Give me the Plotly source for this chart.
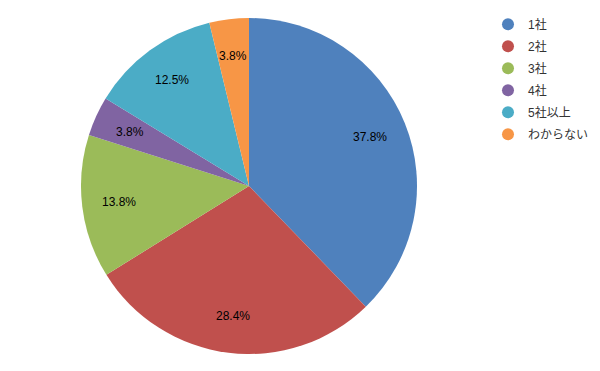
import math
import plotly.graph_objects as go

labels = ["1社", "2社", "3社", "4社", "5社以上", "わからない"]
values = [37.8, 28.4, 13.8, 3.8, 12.5, 3.8]
colors = ["#4F81BD", "#C0504D", "#9BBB59", "#8064A2", "#4BACC6", "#F79646"]

font_family = "Liberation Sans, Noto Sans CJK JP, sans-serif"

W, H = 600, 371
# pie geometry in figure pixels
cx, cy, R = 241, 178, 168
dom_x = [(cx - R) / W, (cx + R) / W]
dom_y = [1 - (cy + R) / H, 1 - (cy - R) / H]

fig = go.Figure()
fig.add_trace(go.Pie(
    labels=labels, values=values, sort=False, direction="clockwise", rotation=0,
    marker=dict(colors=colors, line=dict(width=0)),
    textinfo="none",
    showlegend=False, hoverinfo="label+value",
    domain=dict(x=dom_x, y=dom_y),
))

# data labels at the middle angle of each slice, ~0.78 R
total = sum(values)
cum = 0.0
for v in values:
    mid = (cum + v / 2) / total * 2 * math.pi
    cum += v
    r = 0.78 * R
    px = cx + r * math.sin(mid)
    py = cy - r * math.cos(mid)
    fig.add_annotation(x=px / W, y=1 - py / H, xref="paper", yref="paper",
                       xanchor="center", yanchor="middle",
                       text=f"{v:.1f}%", showarrow=False,
                       font=dict(size=12, color="black", family=font_family))

for i, (lab, col) in enumerate(zip(labels, colors)):
    fig.add_trace(go.Scatter(
        x=[None], y=[None], mode="markers", name=lab, legendgroup=f"g{i}",
        marker=dict(symbol="circle", size=12, color=col),
        showlegend=True,
    ))

fig.update_layout(
    width=W, height=H,
    margin=dict(l=0, r=0, t=0, b=0),
    paper_bgcolor="white", plot_bgcolor="white",
    xaxis=dict(visible=False), yaxis=dict(visible=False),
    font=dict(family=font_family, size=12, color="#333333"),
    legend=dict(x=0.80, y=0.995, xanchor="left", yanchor="top",
                font=dict(size=12, color="#333333"), itemwidth=30,
                tracegroupgap=3, bgcolor="rgba(0,0,0,0)"),
)
fig.write_html("out.html")
